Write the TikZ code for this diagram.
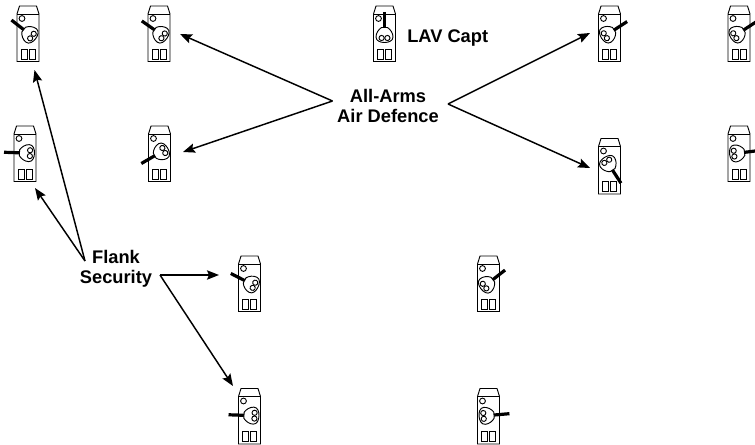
\documentclass[tikz,border=0pt]{standalone}
\usepackage{fontspec}
\setmainfont{Liberation Sans}
\usetikzlibrary{arrows.meta}
\tikzset{
  vehline/.style={black, line width=0.7pt},
  gunline/.style={black, line width=2.4pt},
  callout/.style={-{Stealth[length=9pt,width=7pt,inset=1.5pt]}, black, line width=1.1pt},
  lbl/.style={font=\bfseries\fontsize{13.7}{15}\selectfont, align=center, inner sep=0pt}
}
% #1 name, #2 x, #3 top y, #4 turret angle (px, y runs down)
\newcommand{\lavveh}[4]{
  \coordinate (#1) at (#2,#3);
  \begin{scope}[shift={(#1)}]
    \draw[vehline] (-11,8) -- (-8.5,0) -- (8.5,0) -- (11,8) -- (11,55.5) -- (-11,55.5) -- cycle;
    \draw[vehline] (-11,8) -- (11,8);
    \draw[vehline] (-6,12.5) circle (2.9);
    \draw[vehline] (-7,43) rectangle (-1,53);
    \draw[vehline] (1.3,43) rectangle (7,53);
    \begin{scope}[shift={(0,27)}, rotate=#4]
      \draw[gunline] (0,-21) -- (0,-4);
      \draw[vehline, fill=white] (-3,-5.5) -- (3,-5.5) .. controls (6,-3.5) and (8.5,0) .. (8.5,4)
        .. controls (8.5,8) and (4,9.5) .. (0,9.5) .. controls (-4,9.5) and (-8.5,8) .. (-8.5,4)
        .. controls (-8.5,0) and (-6,-3.5) .. (-3,-5.5) -- cycle;
      \draw[vehline] (-2.9,5) circle (2.6);
      \draw[vehline] (2.9,5) circle (2.6);
    \end{scope}
  \end{scope}
}
\begin{document}
\begin{tikzpicture}[x=0.75pt, y=-0.75pt]
\useasboundingbox (0,0) rectangle (755,445);

% vehicles, top row first
\lavveh{vehA}{28}{6}{52}
\lavveh{vehB}{159}{6}{55}
\lavveh{vehC}{25}{126}{88}
\lavveh{vehD}{159.5}{126}{120}
\lavveh{vehCapt}{384.5}{6}{0}
\lavveh{vehE}{609.5}{6}{-57}
\lavveh{vehF}{739}{6}{-57}
\lavveh{vehG}{609.5}{138.5}{-147}
\lavveh{vehH}{739}{126}{-83}
\lavveh{vehJ}{249.5}{256}{63}
\lavveh{vehK}{249.5}{388.5}{88}
\lavveh{vehL}{488.5}{256}{-52}
\lavveh{vehM}{488.5}{388.5}{-85}

% --- Labels ---
\node[lbl, anchor=west] (capt) at (407,38) {LAV Capt};
\node[lbl] (aa) at (388,106) {All-Arms\\Air Defence};
\node[lbl] (flank) at (116,269) {Flank\\Security};

% --- Arrow ends ---
\coordinate (aaL) at (332.5,101);
\coordinate (aaR) at (448,104);
\coordinate (flankL) at (85,261);
\coordinate (flankR) at (160,275);

% --- Arrows ---
\draw[callout] (aaL) -- ([shift={(21,28)}]vehB);
\draw[callout] (aaL) -- ([shift={(24,146)}]vehB);
\draw[callout] (aaR) -- ([shift={(-19.5,27)}]vehE);
\draw[callout] (aaR) -- ([shift={(-19.5,29.5)}]vehG);
\draw[callout] (flankL) -- ([shift={(6.5,64)}]vehA);
\draw[callout] (flankL) -- ([shift={(10,62)}]vehC);
\draw[callout] (flankR) -- ([shift={(-30.5,19)}]vehJ);
\draw[callout] (flankR) -- ([shift={(-16.5,-2.5)}]vehK);

\end{tikzpicture}
\end{document}
